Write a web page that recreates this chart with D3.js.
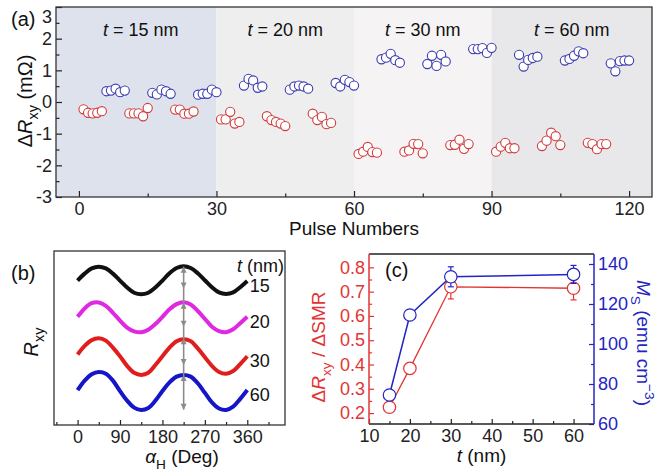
<!DOCTYPE html>
<html>
<head>
<meta charset="utf-8">
<script src="https://cdn.jsdelivr.net/npm/d3@7"></script>
<style>
  body { margin: 0; background: #fff; }
  text { font-family: "Liberation Sans", Arial, sans-serif; }
</style>
</head>
<body>
<svg id="fig" width="663" height="475"></svg>
<script>
// ---------- panel (a): pulse switching ----------
const bandEdges = [-5, 30, 60, 90, 125];
const bandFills = ["#dde2ed", "#eeeeee", "#f5f3f4", "#e8e7ea"];
const bandThickness = ["15", "20", "30", "60"];
const bandLabelAt = [13.5, 45, 75, 107.5];
const pulseTicks = [0, 30, 60, 90, 120];
const dRTicks = [-3, -2, -1, 0, 1, 2, 3];

// 12 groups of 5 pulses: red at pulses 10g+1..10g+5, blue at 10g+6..10g+10
const redGroups = [
  [-0.23, -0.34, -0.36, -0.34, -0.29],
  [-0.36, -0.36, -0.36, -0.45, -0.19],
  [-0.24, -0.24, -0.37, -0.37, -0.30],
  [-0.55, -0.55, -0.31, -0.68, -0.63],
  [-0.45, -0.57, -0.63, -0.68, -0.76],
  [-0.37, -0.57, -0.47, -0.70, -0.66],
  [-1.64, -1.57, -1.42, -1.58, -1.60],
  [-1.57, -1.53, -1.32, -1.33, -1.62],
  [-1.36, -1.35, -1.19, -1.48, -1.33],
  [-1.57, -1.41, -1.29, -1.46, -1.46],
  [-1.39, -1.22, -0.97, -1.08, -1.36],
  [-1.29, -1.33, -1.49, -1.33, -1.33]
];
const blueGroups = [
  [0.34, 0.36, 0.42, 0.31, 0.36],
  [0.29, 0.24, 0.39, 0.34, 0.26],
  [0.23, 0.26, 0.26, 0.39, 0.31],
  [0.52, 0.73, 0.68, 0.45, 0.49],
  [0.39, 0.49, 0.52, 0.49, 0.42],
  [0.60, 0.49, 0.70, 0.63, 0.52],
  [1.35, 1.40, 1.52, 1.32, 1.24],
  [1.20, 1.46, 1.14, 1.49, 1.28],
  [1.67, 1.67, 1.70, 1.55, 1.71],
  [1.49, 1.12, 1.33, 1.39, 1.43],
  [1.31, 1.36, 1.46, 1.60, 1.54],
  [1.22, 0.97, 1.29, 1.31, 1.31]
];

// ---------- panel (b): angular scans ----------
const angles = [0, 15, 30, 45, 60, 75, 90, 105, 120, 135, 150, 165, 180,
                195, 210, 225, 240, 255, 270, 285, 300, 315, 330, 345, 360];
const scanLabels = ["15", "20", "30", "60"];
const scanColors = ["#111111", "#e028e0", "#e01e1e", "#1616c8"];
const scans = [
  [8.30, 8.70, 9.00, 9.10, 9.00, 8.70, 8.30, 7.90, 7.60, 7.51, 7.60, 7.90, 8.30,
   8.72, 9.02, 9.12, 9.02, 8.72, 8.32, 7.92, 7.62, 7.53, 7.62, 7.92, 8.28],
  [6.22, 6.70, 7.00, 7.04, 6.85, 6.45, 6.00, 5.60, 5.38, 5.33, 5.48, 5.80, 6.22,
   6.65, 6.95, 7.05, 6.92, 6.55, 6.10, 5.65, 5.40, 5.33, 5.50, 5.85, 6.22],
  [4.05, 4.55, 4.88, 4.98, 4.85, 4.45, 3.95, 3.40, 3.00, 2.88, 3.00, 3.45, 3.95,
   4.45, 4.82, 4.93, 4.82, 4.40, 3.90, 3.40, 3.05, 2.95, 3.10, 3.50, 3.95],
  [2.00, 2.55, 2.92, 3.05, 2.95, 2.55, 1.95, 1.40, 1.00, 0.86, 0.98, 1.40, 1.95,
   2.45, 2.78, 2.88, 2.78, 2.40, 1.85, 1.30, 0.95, 0.86, 1.05, 1.50, 2.01]
];
const arrowAngle = 225;
const arrowTop = [9.10, 7.02, 4.98, 2.88];
const arrowBottom = [7.85, 5.65, 3.45, 0.88];
const angleTicks = [0, 90, 180, 270, 360];
const angleMinor = [-45, 45, 135, 225, 315, 405];

// ---------- panel (c): thickness dependence ----------
const thickness = [15, 20, 30, 60];
const ratio = [0.224, 0.384, 0.72, 0.714];
const ratioErr = [0.014, 0.006, 0.05, 0.048];
const ms = [74.5, 114.5, 133.6, 134.8];
const msErr = [2.5, 1.5, 5, 4.5];
const tTicks = [10, 20, 30, 40, 50, 60];
const ratioTicks = [0.2, 0.3, 0.4, 0.5, 0.6, 0.7, 0.8];
const msTicks = [60, 80, 100, 120, 140];

const RED_A = "#d23c3c", BLUE_A = "#3c3cb0";
const RED_C = "#e23434", BLUE_C = "#2424c4";

const svg = d3.select("#fig");

// text with sub/superscripts, parts: {t, it, sub, sup}
function rich(sel, parts, size) {
  let shift = 0;
  parts.forEach(p => {
    const target = p.sub ? size * 0.32 : p.sup ? -size * 0.42 : 0;
    sel.append("tspan")
      .attr("dy", target - shift)
      .style("font-size", (p.sub || p.sup ? size * 0.72 : size) + "px")
      .style("font-style", p.it ? "italic" : "normal")
      .text(p.t);
    shift = target;
  });
  return sel;
}

function styleAxis(g, color) {
  g.select(".domain").remove();
  g.selectAll("line").attr("stroke", color).attr("stroke-width", 1.2);
  g.selectAll("text").attr("fill", color).style("font-size", "18px");
}

// ================= panel (a) =================
const xA = d3.scaleLinear().domain([-5, 125]).range([56, 652]);
const yA = d3.scaleLinear().domain([-3, 3]).range([197, 7]);
const gA = svg.append("g");

gA.selectAll("rect.band")
  .data(bandFills)
  .enter()
  .append("rect")
  .attr("x", (d, i) => xA(bandEdges[i]))
  .attr("y", yA(3))
  .attr("width", (d, i) => xA(bandEdges[i + 1]) - xA(bandEdges[i]))
  .attr("height", yA(-3) - yA(3))
  .attr("fill", d => d);

gA.selectAll("text.band")
  .data(bandThickness)
  .enter()
  .append("text")
  .attr("x", (d, i) => xA(bandLabelAt[i]))
  .attr("y", 36)
  .attr("text-anchor", "middle")
  .attr("fill", "#111")
  .each(function (d) {
    rich(d3.select(this), [{ t: "t", it: true }, { t: " = " + d + " nm" }], 18);
  });

const redPts = redGroups.flatMap((g, gi) => g.map((v, k) => ({ p: gi * 10 + k + 1, v })));
const bluePts = blueGroups.flatMap((g, gi) => g.map((v, k) => ({ p: gi * 10 + k + 6, v })));

[[redPts, RED_A], [bluePts, BLUE_A]].forEach(([pts, col]) => {
  gA.append("g").selectAll("circle")
    .data(pts)
    .enter()
    .append("circle")
    .attr("cx", d => xA(d.p))
    .attr("cy", d => yA(d.v))
    .attr("r", 4.6)
    .attr("fill", "#fff")
    .attr("stroke", col)
    .attr("stroke-width", 1.1);
});

gA.append("g").attr("transform", `translate(0,${yA(-3)})`)
  .call(d3.axisBottom(xA).tickValues(pulseTicks).tickSizeInner(-6).tickSizeOuter(0).tickPadding(5))
  .call(g => styleAxis(g, "#222"));
gA.append("g").attr("transform", `translate(0,${yA(-3)})`)
  .call(d3.axisBottom(xA).tickValues([15, 45, 75, 105]).tickSize(-3.5).tickFormat(""))
  .call(g => styleAxis(g, "#222"));
gA.append("g").attr("transform", `translate(${xA(-5)},0)`)
  .call(d3.axisLeft(yA).tickValues(dRTicks).tickSizeInner(-6).tickSizeOuter(0).tickPadding(4).tickFormat(d => String(d)))
  .call(g => styleAxis(g, "#222"))
  .call(g => g.selectAll(".tick text").filter(d => d === 3).attr("dy", "0.85em")); // keep top label inside the page
gA.append("g").attr("transform", `translate(${xA(-5)},0)`)
  .call(d3.axisLeft(yA).tickValues([-2.5, -1.5, -0.5, 0.5, 1.5, 2.5]).tickSize(-3.5).tickFormat(""))
  .call(g => styleAxis(g, "#222"));

gA.append("rect")
  .attr("x", xA(-5)).attr("y", yA(3))
  .attr("width", xA(125) - xA(-5)).attr("height", yA(-3) - yA(3))
  .attr("fill", "none").attr("stroke", "#333").attr("stroke-width", 1.3);

gA.append("text").attr("x", (xA(-5) + xA(125)) / 2).attr("y", 235)
  .attr("text-anchor", "middle").style("font-size", "19px").attr("fill", "#111")
  .text("Pulse Numbers");
gA.append("text").attr("transform", "translate(32,101) rotate(-90)")
  .attr("text-anchor", "middle").attr("fill", "#111")
  .call(s => rich(s, [{ t: "Δ" }, { t: "R", it: true }, { t: "xy", sub: true }, { t: " (mΩ)" }], 20));
gA.append("text").attr("x", 11).attr("y", 26).style("font-size", "20px").attr("fill", "#111").text("(a)");

// ================= panel (b) =================
const xB = d3.scaleLinear().domain([-50, 440]).range([54, 285]);
const yB = d3.scaleLinear().domain([0, 10]).range([425, 251]);
const gB = svg.append("g");

const line = d3.line().x((d, i) => xB(angles[i])).y(d => yB(d)).curve(d3.curveCatmullRom);
gB.selectAll("path.scan")
  .data(scans)
  .enter()
  .append("path")
  .attr("d", line)
  .attr("fill", "none")
  .attr("stroke", (d, i) => scanColors[i])
  .attr("stroke-width", 4);

// arrows marking the amplitude
const ax = xB(arrowAngle);
gB.append("line")
  .attr("x1", ax).attr("x2", ax)
  .attr("y1", yB(arrowTop[0])).attr("y2", yB(arrowBottom[3]))
  .attr("stroke", "#8c8c8c").attr("stroke-width", 1.6);
arrowTop.forEach((v, i) => {
  const yt = yB(v), yb = yB(arrowBottom[i]);
  gB.append("path").attr("d", `M${ax},${yt} L${ax - 3},${yt + 6} L${ax + 3},${yt + 6} Z`).attr("fill", "#8c8c8c");
  gB.append("path").attr("d", `M${ax},${yb} L${ax - 3},${yb - 6} L${ax + 3},${yb - 6} Z`).attr("fill", "#8c8c8c");
});

gB.selectAll("text.scan")
  .data(scanLabels)
  .enter()
  .append("text")
  .attr("x", xB(365))
  .attr("y", (d, i) => yB(scans[i][scans[i].length - 1]) + 11)
  .style("font-size", "18px").attr("fill", "#111")
  .text(d => d);
gB.append("text").attr("x", 284).attr("y", 272).attr("text-anchor", "end").attr("fill", "#111")
  .call(s => rich(s, [{ t: "t", it: true }, { t: " (nm)" }], 18));

gB.append("g").attr("transform", `translate(0,${yB(0)})`)
  .call(d3.axisBottom(xB).tickValues(angleTicks).tickSizeInner(-5).tickSizeOuter(0).tickPadding(5))
  .call(g => styleAxis(g, "#222"));
gB.append("g").attr("transform", `translate(0,${yB(0)})`)
  .call(d3.axisBottom(xB).tickValues(angleMinor).tickSize(-3).tickFormat(""))
  .call(g => styleAxis(g, "#222"));
gB.append("rect")
  .attr("x", xB(-50)).attr("y", yB(10))
  .attr("width", xB(440) - xB(-50)).attr("height", yB(0) - yB(10))
  .attr("fill", "none").attr("stroke", "#333").attr("stroke-width", 1.3);

gB.append("text").attr("x", 182).attr("y", 463).attr("text-anchor", "middle").attr("fill", "#111")
  .call(s => rich(s, [{ t: "α", it: true }, { t: "H", sub: true }, { t: " (Deg)" }], 19));
gB.append("text").attr("transform", "translate(38,342) rotate(-90)")
  .attr("text-anchor", "middle").attr("fill", "#111")
  .call(s => rich(s, [{ t: "R", it: true }, { t: "xy", sub: true }], 20));
gB.append("text").attr("x", 11).attr("y", 280).style("font-size", "20px").attr("fill", "#111").text("(b)");

// ================= panel (c) =================
const xC = d3.scaleLinear().domain([10, 65]).range([369, 594]);
const yL = d3.scaleLinear().domain([0.155, 0.855]).range([424, 254]);
const yR = d3.scaleLinear().domain([60, 145]).range([424, 254]);
const gC = svg.append("g");

gC.append("path")
  .attr("d", d3.line().x((d, i) => xC(thickness[i])).y(d => yL(d))(ratio))
  .attr("fill", "none").attr("stroke", RED_C).attr("stroke-width", 1.3);
gC.append("path")
  .attr("d", d3.line().x((d, i) => xC(thickness[i])).y(d => yR(d))(ms))
  .attr("fill", "none").attr("stroke", BLUE_C).attr("stroke-width", 1.5);

function errBars(vals, errs, y, col) {
  const g = gC.append("g").attr("stroke", col).attr("stroke-width", 1.2);
  vals.forEach((v, i) => {
    const x = xC(thickness[i]);
    g.append("line").attr("x1", x).attr("x2", x).attr("y1", y(v - errs[i])).attr("y2", y(v + errs[i]));
    g.append("line").attr("x1", x - 3).attr("x2", x + 3).attr("y1", y(v - errs[i])).attr("y2", y(v - errs[i]));
    g.append("line").attr("x1", x - 3).attr("x2", x + 3).attr("y1", y(v + errs[i])).attr("y2", y(v + errs[i]));
  });
  g.selectAll("circle")
    .data(vals)
    .enter()
    .append("circle")
    .attr("cx", (d, i) => xC(thickness[i]))
    .attr("cy", d => y(d))
    .attr("r", 6.2)
    .attr("fill", "#fff");
}
errBars(ratio, ratioErr, yL, RED_C);
errBars(ms, msErr, yR, BLUE_C);

gC.append("g").attr("transform", `translate(0,${yL(0.155)})`)
  .call(d3.axisBottom(xC).tickValues(tTicks).tickSizeInner(-5).tickSizeOuter(0).tickPadding(5))
  .call(g => styleAxis(g, "#222"));
gC.append("g").attr("transform", `translate(0,${yL(0.155)})`)
  .call(d3.axisBottom(xC).tickValues([15, 25, 35, 45, 55]).tickSize(-3).tickFormat(""))
  .call(g => styleAxis(g, "#222"));
gC.append("g").attr("transform", `translate(${xC(10)},0)`)
  .call(d3.axisLeft(yL).tickValues(ratioTicks).tickSizeInner(-5).tickSizeOuter(0).tickPadding(4).tickFormat(d3.format(".1f")))
  .call(g => styleAxis(g, RED_C));
gC.append("g").attr("transform", `translate(${xC(10)},0)`)
  .call(d3.axisLeft(yL).tickValues([0.25, 0.35, 0.45, 0.55, 0.65, 0.75]).tickSize(-3).tickFormat(""))
  .call(g => styleAxis(g, RED_C));
gC.append("g").attr("transform", `translate(${xC(65)},0)`)
  .call(d3.axisRight(yR).tickValues(msTicks).tickSizeInner(-5).tickSizeOuter(0).tickPadding(4))
  .call(g => styleAxis(g, BLUE_C));
gC.append("g").attr("transform", `translate(${xC(65)},0)`)
  .call(d3.axisRight(yR).tickValues([70, 90, 110, 130]).tickSize(-3).tickFormat(""))
  .call(g => styleAxis(g, BLUE_C));

// frame: black top/bottom, red left, blue right
gC.append("line").attr("x1", xC(10)).attr("x2", xC(65)).attr("y1", yR(145)).attr("y2", yR(145)).attr("stroke", "#222").attr("stroke-width", 1.3);
gC.append("line").attr("x1", xC(10)).attr("x2", xC(65)).attr("y1", yR(60)).attr("y2", yR(60)).attr("stroke", "#222").attr("stroke-width", 1.3);
gC.append("line").attr("x1", xC(10)).attr("x2", xC(10)).attr("y1", yR(145)).attr("y2", yR(60)).attr("stroke", RED_C).attr("stroke-width", 1.5);
gC.append("line").attr("x1", xC(65)).attr("x2", xC(65)).attr("y1", yR(145)).attr("y2", yR(60)).attr("stroke", BLUE_C).attr("stroke-width", 1.5);

gC.append("text").attr("x", (xC(10) + xC(65)) / 2).attr("y", 462).attr("text-anchor", "middle").attr("fill", "#111")
  .call(s => rich(s, [{ t: "t", it: true }, { t: " (nm)" }], 19));
gC.append("text").attr("transform", "translate(325,347) rotate(-90)")
  .attr("text-anchor", "middle").attr("fill", RED_C)
  .call(s => rich(s, [{ t: "Δ" }, { t: "R", it: true }, { t: "xy", sub: true }, { t: " / ΔSMR" }], 19));
gC.append("text").attr("transform", "translate(637,343) rotate(90)")
  .attr("text-anchor", "middle").attr("fill", BLUE_C)
  .call(s => rich(s, [{ t: "M", it: true }, { t: "S", sub: true }, { t: " (emu cm" }, { t: "−3", sup: true }, { t: ")" }], 19));
gC.append("text").attr("x", 385).attr("y", 277).style("font-size", "20px").attr("fill", "#111").text("(c)");
</script>
</body>
</html>
